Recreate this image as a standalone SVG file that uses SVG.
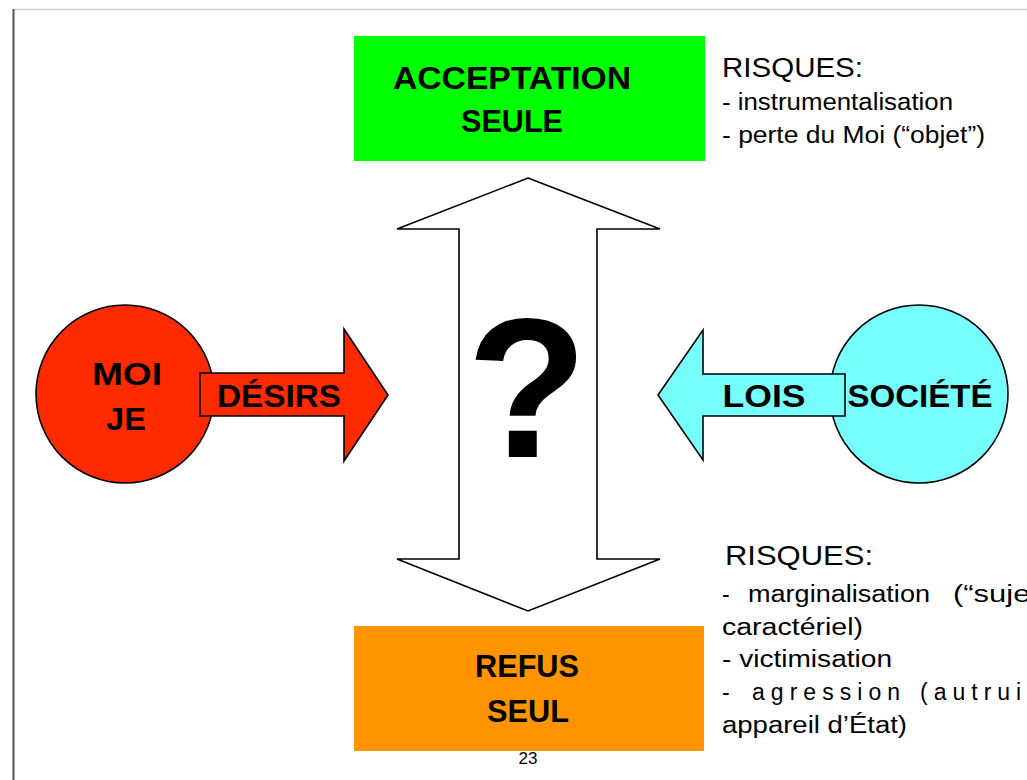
<svg xmlns="http://www.w3.org/2000/svg" width="1027" height="780" viewBox="0 0 1027 780">
<style>
.t{font-family:"Liberation Sans",Arial,sans-serif;fill:#000}
.b{font-weight:bold;text-anchor:middle;font-size:32px}
.r{font-size:23px}
.s{stroke:#000;stroke-width:1.6;stroke-linejoin:miter}
</style>
<rect width="1027" height="780" fill="#fff"/>
<line x1="13" y1="9.5" x2="1027" y2="9.5" stroke="#d0d0d0" stroke-width="1.5"/>
<line x1="13.5" y1="9" x2="13.5" y2="780" stroke="#555" stroke-width="2"/>
<text class="t" x="528" y="764" font-size="17" text-anchor="middle">23</text>
<g id="acceptation">
<rect x="354" y="36" width="351" height="125" fill="#00ff00"/>
<text class="t b" x="512" y="89" textLength="238" lengthAdjust="spacingAndGlyphs">ACCEPTATION</text>
<text class="t b" x="512" y="132" textLength="102" lengthAdjust="spacingAndGlyphs">SEULE</text>
</g>
<g id="refus">
<rect x="354" y="626" width="350" height="125" fill="#ff9400"/>
<text class="t b" x="527" y="677" textLength="104" lengthAdjust="spacingAndGlyphs">REFUS</text>
<text class="t b" x="528" y="722" textLength="82" lengthAdjust="spacingAndGlyphs">SEUL</text>
</g>
<g id="connectors">
<path id="double-arrow" class="s" fill="#fff" d="M528,178 L660,229 L597,229 L597,559 L660,559 L528,611 L397,559 L459,559 L459,229 L397,229 Z"/>
</g>
<g id="question">
<text class="t" x="527" y="457" font-size="198" font-weight="bold" text-anchor="middle">?</text>
</g>
<g id="moi">
<circle class="s" cx="125" cy="394" r="89" fill="#ff2a00"/>
<text class="t b" x="127" y="385" textLength="70" lengthAdjust="spacingAndGlyphs">MOI</text>
<text class="t b" x="126" y="430" textLength="40" lengthAdjust="spacingAndGlyphs">JE</text>
</g>
<g id="desirs">
<path class="s" fill="#ff2a00" d="M200,373 L344,373 L344,329 L388,395 L344,461 L344,416 L200,416 Z"/>
<text class="t b" x="279" y="407" textLength="124" lengthAdjust="spacingAndGlyphs">DÉSIRS</text>
</g>
<g id="societe">
<circle class="s" cx="919" cy="394" r="89" fill="#77ffff"/>
<text class="t b" x="920" y="407" textLength="145" lengthAdjust="spacingAndGlyphs">SOCIÉTÉ</text>
</g>
<g id="lois">
<path class="s" fill="#77ffff" d="M845,374 L703,374 L703,330 L658,395 L703,460 L703,416 L845,416 Z"/>
<text class="t b" x="764" y="407" textLength="83" lengthAdjust="spacingAndGlyphs">LOIS</text>
</g>
<g id="risques-haut">
<text class="t" x="722" y="77" font-size="27" textLength="141" lengthAdjust="spacingAndGlyphs">RISQUES:</text>
<text class="t r" x="722" y="110" textLength="231" lengthAdjust="spacingAndGlyphs">- instrumentalisation</text>
<text class="t r" x="722" y="143" textLength="263" lengthAdjust="spacingAndGlyphs">- perte du Moi (“objet”)</text>
</g>
<g id="risques-bas">
<text class="t" x="725" y="565" font-size="28" textLength="148" lengthAdjust="spacingAndGlyphs">RISQUES:</text>
<text class="t r" y="602"><tspan x="722">-</tspan><tspan x="748" textLength="182" lengthAdjust="spacingAndGlyphs">marginalisation</tspan><tspan x="953" textLength="86" lengthAdjust="spacingAndGlyphs">(“sujet</tspan></text>
<text class="t r" x="722" y="635" textLength="141" lengthAdjust="spacingAndGlyphs">caractériel)</text>
<text class="t r" x="722" y="667" textLength="170" lengthAdjust="spacingAndGlyphs">- victimisation</text>
<text class="t r" y="700"><tspan x="722">-</tspan><tspan x="752" textLength="148">agression</tspan><tspan x="920" letter-spacing="6">(autrui</tspan></text>
<text class="t r" x="722" y="733" textLength="185" lengthAdjust="spacingAndGlyphs">appareil d’État)</text>
</g>
</svg>
